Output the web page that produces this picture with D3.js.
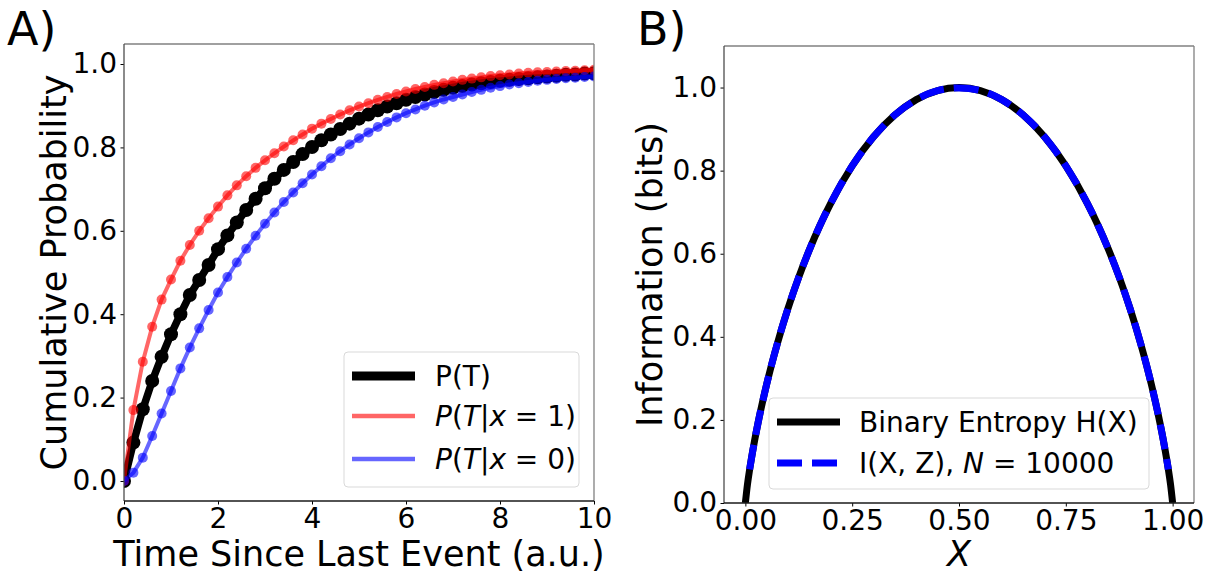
<!DOCTYPE html>
<html>
<head>
<meta charset="utf-8">
<script src="https://cdn.jsdelivr.net/npm/d3@7"></script>
<style>
body { margin: 0; background: #fff; }
text { font-family: 'DejaVu Sans', sans-serif; fill: #000; }
</style>
</head>
<body>
<script>

// panel A: cumulative probability vs time since last event
var times = [0, 0.2, 0.4, 0.6, 0.8, 1, 1.2, 1.4, 1.6, 1.8, 2, 2.2, 2.4, 2.6, 2.8, 3, 3.2, 3.4, 3.6, 3.8,
             4, 4.2, 4.4, 4.6, 4.8, 5, 5.2, 5.4, 5.6, 5.8, 6, 6.2, 6.4, 6.6, 6.8, 7, 7.2, 7.4, 7.6, 7.8,
             8, 8.2, 8.4, 8.6, 8.8, 9, 9.2, 9.4, 9.6, 9.8, 10];

var pT   = [0, 0.092, 0.172, 0.24, 0.298, 0.352, 0.4, 0.446, 0.482, 0.518, 0.556, 0.589, 0.62, 0.65, 0.677,
            0.702, 0.725, 0.746, 0.765, 0.784, 0.801, 0.817, 0.831, 0.844, 0.857, 0.869, 0.879, 0.889, 0.898,
            0.906, 0.914, 0.921, 0.927, 0.933, 0.938, 0.943, 0.947, 0.951, 0.954, 0.957, 0.96, 0.962, 0.964,
            0.966, 0.968, 0.97, 0.972, 0.974, 0.975, 0.977, 0.978];

var pTx1 = [0, 0.17, 0.286, 0.37, 0.435, 0.483, 0.528, 0.566, 0.6, 0.63, 0.658, 0.685, 0.709, 0.731, 0.751,
            0.769, 0.786, 0.802, 0.817, 0.831, 0.845, 0.857, 0.868, 0.879, 0.889, 0.898, 0.906, 0.914, 0.921,
            0.928, 0.934, 0.94, 0.945, 0.95, 0.954, 0.958, 0.962, 0.965, 0.968, 0.971, 0.973, 0.975, 0.977,
            0.979, 0.98, 0.981, 0.982, 0.983, 0.984, 0.985, 0.986];

var pTx0 = [0, 0.02, 0.056, 0.108, 0.162, 0.216, 0.27, 0.32, 0.366, 0.41, 0.452, 0.489, 0.524, 0.557, 0.588,
            0.617, 0.644, 0.669, 0.692, 0.714, 0.735, 0.755, 0.774, 0.791, 0.807, 0.822, 0.836, 0.849, 0.861,
            0.872, 0.882, 0.891, 0.9, 0.908, 0.915, 0.921, 0.927, 0.933, 0.938, 0.943, 0.947, 0.951, 0.954,
            0.957, 0.96, 0.962, 0.964, 0.966, 0.967, 0.969, 0.97];

var ticksAx = [0, 2, 4, 6, 8, 10];
var ticksAy = [0, 0.2, 0.4, 0.6, 0.8, 1.0];

// panel B: binary entropy and estimated mutual information
var probX   = [0, 0.005, 0.01, 0.02, 0.03, 0.05, 0.075, 0.1, 0.125, 0.15, 0.175, 0.2, 0.25, 0.3, 0.35, 0.4, 0.45, 0.5,
               0.55, 0.6, 0.65, 0.7, 0.75, 0.8, 0.825, 0.85, 0.875, 0.9, 0.925, 0.95, 0.97, 0.98, 0.99, 0.995, 1];
var entropy = [0, 0.0454, 0.0808, 0.1414, 0.1944, 0.2864, 0.3843, 0.469, 0.5436, 0.6098, 0.6692, 0.7219, 0.8113,
               0.8813, 0.9341, 0.971, 0.9928, 1, 0.9928, 0.971, 0.9341, 0.8813, 0.8113, 0.7219, 0.6692, 0.6098,
               0.5436, 0.469, 0.3843, 0.2864, 0.1944, 0.1414, 0.0808, 0.0454, 0];

var probZ   = [0.01, 0.02, 0.03, 0.05, 0.075, 0.1, 0.125, 0.15, 0.175, 0.2, 0.25, 0.3, 0.35, 0.4, 0.45, 0.5,
               0.55, 0.6, 0.65, 0.7, 0.75, 0.8, 0.825, 0.85, 0.875, 0.9, 0.925, 0.95, 0.97, 0.98, 0.99];
var mutInfo = [0.0808, 0.1414, 0.1944, 0.2864, 0.3843, 0.469, 0.5436, 0.6098, 0.6692, 0.7219, 0.8113, 0.8813,
               0.9341, 0.971, 0.9928, 0.999, 0.9928, 0.971, 0.9341, 0.8813, 0.8113, 0.7219, 0.6692, 0.6098,
               0.5436, 0.469, 0.3843, 0.2864, 0.1944, 0.1414, 0.0808];

var ticksBx = [0, 0.25, 0.5, 0.75, 1.0];
var ticksBy = [0, 0.2, 0.4, 0.6, 0.8, 1.0];


var width  = 1216;
var height = 575;
var tickFont = 28;
var labelFont = 35;

var svg = d3.select('body')
            .append('svg')
            .attr('width', width)
            .attr('height', height)
            .style('display', 'block');

svg.append('rect').attr('width', width).attr('height', height).attr('fill', '#fff');

var xA = d3.scaleLinear().domain([0, 10]).range([124, 594]);
var yA = d3.scaleLinear().domain([-0.048, 1.048]).range([501, 44]);
var xB = d3.scaleLinear().domain([-0.05, 1.05]).range([724, 1194]);
var yB = d3.scaleLinear().domain([0, 1.1]).range([503, 46]);

function frame(x, y, id) {
  var x0 = x.range()[0], x1 = x.range()[1], y0 = y.range()[0], y1 = y.range()[1];
  svg.append('clipPath').attr('id', id)
     .append('rect').attr('x', x0).attr('y', y1).attr('width', x1 - x0).attr('height', y0 - y1);
  return svg.append('g').attr('clip-path', 'url(#' + id + ')');
}

function axes(x, y, xt, yt, xf, yf) {
  var x0 = x.range()[0], x1 = x.range()[1], y0 = y.range()[0], y1 = y.range()[1];
  var gx = svg.append('g').attr('transform', 'translate(0,' + y0 + ')')
              .call(d3.axisBottom(x).tickValues(xt).tickSize(3.5).tickPadding(3.5).tickFormat(d3.format(xf)));
  var gy = svg.append('g').attr('transform', 'translate(' + x0 + ',0)')
              .call(d3.axisLeft(y).tickValues(yt).tickSize(3.5).tickPadding(3.5).tickFormat(d3.format(yf)));
  [gx, gy].forEach(function(g) {
    g.select('.domain').remove();
    g.selectAll('.tick line').attr('stroke', '#000').attr('stroke-width', 1);
    g.selectAll('.tick text').attr('font-size', tickFont).attr('font-family', 'DejaVu Sans').attr('fill', '#000');
  });
  svg.append('line').attr('x1', x0).attr('x2', x1).attr('y1', y1).attr('y2', y1).attr('stroke', '#808080').attr('stroke-width', 1.3);
  svg.append('line').attr('x1', x1).attr('x2', x1).attr('y1', y0).attr('y2', y1).attr('stroke', '#808080').attr('stroke-width', 1.3);
  svg.append('line').attr('x1', x0).attr('x2', x0).attr('y1', y0).attr('y2', y1).attr('stroke', '#4d4d4d').attr('stroke-width', 1.3);
  svg.append('line').attr('x1', x0).attr('x2', x1).attr('y1', y0).attr('y2', y0).attr('stroke', '#1a1a1a').attr('stroke-width', 1.3);
}

// ---- panel A ----
var plotA = frame(xA, yA, 'clipA');

var seriesA = [
  { values: pT,   color: '#000',  opacity: 1,   lw: 7.5, r: 7 },
  { values: pTx1, color: 'red',   opacity: 0.6, lw: 4,   r: 5 },
  { values: pTx0, color: 'blue',  opacity: 0.6, lw: 4,   r: 5 }
];

var lineA = d3.line()
              .x(function(d) { return xA(d[0]); })
              .y(function(d) { return yA(d[1]); });

seriesA.forEach(function(s) {
  var pts = times.map(function(t, i) { return [t, s.values[i]]; });
  plotA.append('path')
       .datum(pts)
       .attr('d', lineA)
       .attr('fill', 'none')
       .attr('stroke', s.color)
       .attr('stroke-opacity', s.opacity)
       .attr('stroke-width', s.lw);
  plotA.append('g')
       .selectAll('circle')
       .data(pts)
       .enter()
       .append('circle')
       .attr('cx', function(d) { return xA(d[0]); })
       .attr('cy', function(d) { return yA(d[1]); })
       .attr('r', s.r)
       .attr('fill', s.color)
       .attr('fill-opacity', s.opacity);
});

axes(xA, yA, ticksAx, ticksAy, 'd', '.1f');

svg.append('text').attr('x', 7).attr('y', 45).attr('font-size', 46).text('A)');

svg.append('text')
   .attr('x', (xA.range()[0] + xA.range()[1]) / 2)
   .attr('y', 566)
   .attr('text-anchor', 'middle')
   .attr('font-size', labelFont)
   .text('Time Since Last Event (a.u.)');

svg.append('text')
   .attr('transform', 'translate(66,' + (yA.range()[0] + yA.range()[1]) / 2 + ') rotate(-90)')
   .attr('text-anchor', 'middle')
   .attr('font-size', labelFont)
   .text('Cumulative Probability');

// legend A
var legA = svg.append('g');
legA.append('rect')
    .attr('x', 344).attr('y', 352).attr('width', 235).attr('height', 135).attr('rx', 4)
    .attr('fill', '#fff').attr('fill-opacity', 0.8).attr('stroke', '#d9d9d9').attr('stroke-width', 1);

var legItemsA = [
  { y: 376, color: '#000', opacity: 1,   lw: 9,   parts: [['P(T)', 'normal']] },
  { y: 416, color: 'red',  opacity: 0.6, lw: 4.5, parts: [['P', 'italic'], ['(', 'normal'], ['T', 'italic'], ['|', 'normal'], ['x', 'italic'], [' = 1)', 'normal']] },
  { y: 459, color: 'blue', opacity: 0.6, lw: 4.5, parts: [['P', 'italic'], ['(', 'normal'], ['T', 'italic'], ['|', 'normal'], ['x', 'italic'], [' = 0)', 'normal']] }
];

legItemsA.forEach(function(it) {
  legA.append('line')
      .attr('x1', 352).attr('x2', 415).attr('y1', it.y).attr('y2', it.y)
      .attr('stroke', it.color).attr('stroke-opacity', it.opacity).attr('stroke-width', it.lw);
  var t = legA.append('text').attr('x', 435).attr('y', it.y).attr('dy', '0.36em').attr('font-size', 28)
              .attr('xml:space', 'preserve');
  it.parts.forEach(function(p) {
    t.append('tspan').attr('font-style', p[1]).text(p[0]);
  });
});

// ---- panel B ----
var plotB = frame(xB, yB, 'clipB');

var lineB = d3.line()
              .x(function(d) { return xB(d[0]); })
              .y(function(d) { return yB(d[1]); })
              .curve(d3.curveMonotoneX);

plotB.append('path')
     .datum(probX.map(function(p, i) { return [p, entropy[i]]; }))
     .attr('d', lineB)
     .attr('fill', 'none')
     .attr('stroke', '#000')
     .attr('stroke-width', 7);

plotB.append('path')
     .datum(probZ.map(function(p, i) { return [p, mutInfo[i]]; }))
     .attr('d', lineB)
     .attr('fill', 'none')
     .attr('stroke', 'blue')
     .attr('stroke-width', 7)
     .attr('stroke-dasharray', '25,10');

axes(xB, yB, ticksBx, ticksBy, '.2f', '.1f');

svg.append('text').attr('x', 637).attr('y', 45).attr('font-size', 46).text('B)');

svg.append('text')
   .attr('x', (xB.range()[0] + xB.range()[1]) / 2)
   .attr('y', 566)
   .attr('text-anchor', 'middle')
   .attr('font-size', labelFont)
   .attr('font-style', 'italic')
   .text('X');

svg.append('text')
   .attr('transform', 'translate(662,' + (yB.range()[0] + yB.range()[1]) / 2 + ') rotate(-90)')
   .attr('text-anchor', 'middle')
   .attr('font-size', labelFont)
   .text('Information (bits)');

// legend B
var legB = svg.append('g');
legB.append('rect')
    .attr('x', 769).attr('y', 398).attr('width', 380).attr('height', 91).attr('rx', 4)
    .attr('fill', '#fff').attr('fill-opacity', 0.8).attr('stroke', '#d9d9d9').attr('stroke-width', 1);

var legItemsB = [
  { y: 422, dash: null,    color: '#000', parts: [['Binary Entropy H(X)', 'normal']] },
  { y: 463, dash: '25,10', color: 'blue', parts: [['I(X, Z), ', 'normal'], ['N', 'italic'], [' = 10000', 'normal']] }
];

legItemsB.forEach(function(it) {
  legB.append('line')
      .attr('x1', 777).attr('x2', 840).attr('y1', it.y).attr('y2', it.y)
      .attr('stroke', it.color).attr('stroke-width', 7)
      .attr('stroke-dasharray', it.dash);
  var t = legB.append('text').attr('x', 859).attr('y', it.y).attr('dy', '0.36em').attr('font-size', 28)
              .attr('xml:space', 'preserve');
  it.parts.forEach(function(p) {
    t.append('tspan').attr('font-style', p[1]).text(p[0]);
  });
});

</script>
</body>
</html>
